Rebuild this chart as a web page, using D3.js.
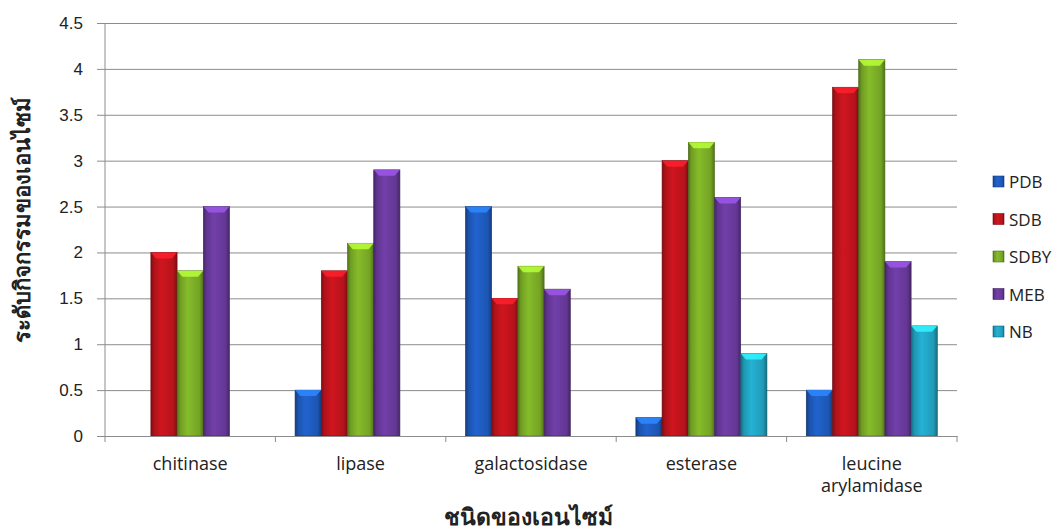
<!DOCTYPE html>
<html>
<head>
<meta charset="utf-8">
<script src="https://cdn.jsdelivr.net/npm/d3@7"></script>
<style>
  body { margin: 0; background: #fff; }
  svg { display: block; font-family: "Open Sans", "Noto Sans", sans-serif; }
</style>
</head>
<body>
<svg id="chart"></svg>
<script>
// chart values
const categories = ['chitinase', 'lipase', 'galactosidase', 'esterase', 'leucine arylamidase'];
const seriesNames = ['PDB', 'SDB', 'SDBY', 'MEB', 'NB'];
const PDB  = [0,   0.5, 2.5,  0.2, 0.5];
const SDB  = [2.0, 1.8, 1.5,  3.0, 3.8];
const SDBY = [1.8, 2.1, 1.85, 3.2, 4.1];
const MEB  = [2.5, 2.9, 1.6,  2.6, 1.9];
const NB   = [0,   0,   0,    0.9, 1.2];
const yTicks = [0, 0.5, 1, 1.5, 2, 2.5, 3, 3.5, 4, 4.5];
const yTitle = 'ระดับกิจกรรมของเอนไซม์';
const xTitle = 'ชนิดของเอนไซม์';

const seriesValues = [PDB, SDB, SDBY, MEB, NB];
const colors = ['#1f5cc0', '#c2141d', '#7daf27', '#6a3b9e', '#22a6c6'];

const W = 1058, H = 532;
const margin = {top: 23, right: 101, bottom: 96, left: 105};
const width = W - margin.left - margin.right;
const height = H - margin.top - margin.bottom;

const svg = d3.select('#chart').attr('width', W).attr('height', H);

// gradients to mimic bevelled bars
const defs = svg.append('defs');
colors.forEach((c, i) => {
  const g = defs.append('linearGradient').attr('id', 'grad' + i)
    .attr('x1', 0).attr('x2', 1).attr('y1', 0).attr('y2', 0);
  const base = d3.color(c);
  g.append('stop').attr('offset', '0%').attr('stop-color', base.darker(1.2));
  g.append('stop').attr('offset', '12%').attr('stop-color', base.darker(0.3));
  g.append('stop').attr('offset', '40%').attr('stop-color', base.brighter(0.2));
  g.append('stop').attr('offset', '85%').attr('stop-color', base.darker(0.2));
  g.append('stop').attr('offset', '100%').attr('stop-color', base.darker(1.2));
});

const chart = svg.append('g').attr('transform', `translate(${margin.left},${margin.top})`);

const x0 = d3.scaleBand().domain(categories).range([0, width]).paddingInner(0).paddingOuter(0);
// excel gap width 150% -> bars occupy 5/(5+1.5) of band
const x1 = d3.scaleBand().domain(seriesNames).range([0, x0.bandwidth()])
  .paddingInner(0).paddingOuter(0.75);
const y = d3.scaleLinear().domain([0, 4.5]).range([height, 0]);

// gridlines
chart.append('g')
  .call(d3.axisLeft(y).tickValues(yTicks).tickSize(-width - 8).tickFormat(''))
  .attr('transform', 'translate(-8,0)')
  .call(g => g.select('.domain').remove())
  .call(g => g.selectAll('line').attr('stroke', '#8c8c8c').attr('stroke-width', 1));

// y axis labels
const yAxisG = chart.append('g')
  .call(d3.axisLeft(y).tickValues(yTicks).tickSize(0).tickPadding(22).tickFormat(d3.format('')))
  .call(g => g.select('.domain').remove());
yAxisG.selectAll('text').attr('font-size', 17).attr('fill', '#222');

// y axis line
chart.append('line')
  .attr('x1', 0).attr('x2', 0).attr('y1', 0).attr('y2', height)
  .attr('stroke', '#8c8c8c');

// bars
const groups = chart.selectAll('.cat')
  .data(categories)
  .join('g')
  .attr('class', 'cat')
  .attr('transform', d => `translate(${x0(d)},0)`);

groups.each(function(cat, ci) {
  const g = d3.select(this);
  const rows = seriesNames.map((s, si) => ({s, si, v: seriesValues[si][ci]})).filter(d => d.v > 0);
  const bars = g.selectAll('.bar').data(rows).join('g').attr('class', 'bar');
  bars.append('rect')
    .attr('x', d => x1(d.s))
    .attr('y', d => y(d.v))
    .attr('width', x1.bandwidth())
    .attr('height', d => height - y(d.v))
    .attr('fill', d => `url(#grad${d.si})`)
    .attr('stroke', d => d3.color(colors[d.si]).darker(1.5))
    .attr('stroke-width', 0.6);
  // top bevel highlight
  bars.append('path')
    .attr('d', d => {
      const xl = x1(d.s), w = x1.bandwidth(), yt = y(d.v);
      return `M${xl},${yt} L${xl + w},${yt} L${xl + w * 0.8},${yt + 6} L${xl + w * 0.2},${yt + 6} Z`;
    })
    .attr('fill', d => d3.color(colors[d.si]).brighter(1.1))
    .attr('opacity', 0.85);
});

// x axis
chart.append('g')
  .attr('transform', `translate(0,${height})`)
  .call(d3.axisBottom(x0).tickSize(0).tickFormat(''))
  .call(g => g.select('.domain').attr('stroke', '#8c8c8c'));

// category boundary ticks
chart.append('g').selectAll('line')
  .data(categories.concat(['end']))
  .join('line')
  .attr('x1', (d, i) => i < categories.length ? x0(d) : width)
  .attr('x2', (d, i) => i < categories.length ? x0(d) : width)
  .attr('y1', height).attr('y2', height + 6)
  .attr('stroke', '#8c8c8c');

// category labels
chart.append('g').selectAll('text')
  .data(categories)
  .join('text')
  .attr('x', d => x0(d) + x0.bandwidth() / 2)
  .attr('y', height + 34)
  .attr('text-anchor', 'middle')
  .attr('font-size', 18)
  .attr('fill', '#222')
  .each(function(d) {
    const words = d === 'leucine arylamidase' ? ['leucine', 'arylamidase'] : [d];
    d3.select(this).selectAll('tspan').data(words).join('tspan')
      .attr('x', x0(d) + x0.bandwidth() / 2)
      .attr('dy', (w, i) => i === 0 ? 0 : 22)
      .text(w => w);
  });

// axis titles
svg.append('text')
  .attr('transform', `translate(30,${margin.top + height / 2 - 10}) rotate(-90)`)
  .attr('text-anchor', 'middle')
  .attr('font-size', 22)
  .attr('font-weight', 'bold')
  .attr('fill', '#222')
  .text(yTitle);

svg.append('text')
  .attr('x', margin.left + width / 2 - 3)
  .attr('y', 525)
  .attr('text-anchor', 'middle')
  .attr('font-size', 23)
  .attr('font-weight', 'bold')
  .attr('fill', '#222')
  .text(xTitle);

// legend
const legend = svg.append('g').attr('transform', 'translate(993,176)');
const items = legend.selectAll('.item').data(seriesNames).join('g')
  .attr('class', 'item')
  .attr('transform', (d, i) => `translate(0,${i * 37.5})`);
items.append('rect')
  .attr('width', 11).attr('height', 11)
  .attr('fill', (d, i) => `url(#grad${i})`)
  .attr('stroke', (d, i) => d3.color(colors[i]).darker(1.2))
  .attr('stroke-width', 0.6);
items.append('text')
  .attr('x', 16).attr('y', 12)
  .attr('font-size', 17)
  .attr('fill', '#222')
  .text(d => d);
</script>
</body>
</html>
